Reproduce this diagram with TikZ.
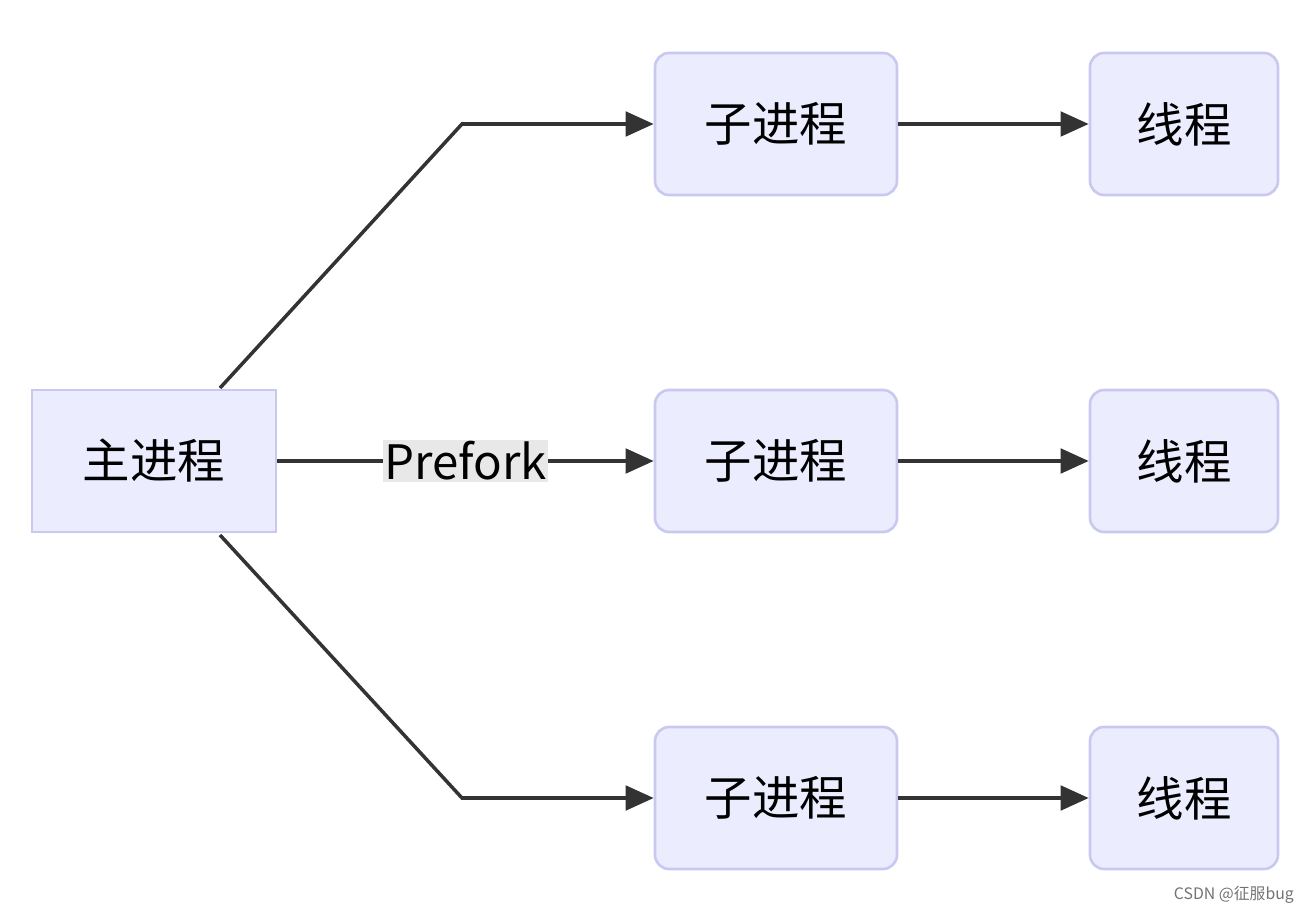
\documentclass[tikz,border=0pt]{standalone}
\usepackage{fontspec}
\setmainfont{Noto Sans CJK SC}
\usetikzlibrary{arrows.meta}
\definecolor{bfill}{HTML}{ECECFF}
\definecolor{bdraw}{HTML}{C9C9F0}
\definecolor{ln}{HTML}{333333}
\begin{document}
\begin{tikzpicture}[x=0.02cm,y=-0.02cm,
  box/.style={draw=bdraw,line width=1.5pt,fill=bfill,inner sep=0pt,font=\fontsize{27}{30}\selectfont},
  arr/.style={draw=ln,line width=2pt,-{Triangle[length=16pt,width=14pt]}}]
\useasboundingbox (0,0) rectangle (1313,912);
\node[box,minimum width=244*0.02cm,minimum height=142*0.02cm] (m) at (154,461) {主进程};
\foreach \i/\y in {1/124,2/461,3/798}{
  \node[box,rounded corners=8pt,minimum width=242*0.02cm,minimum height=142*0.02cm] (c\i) at (776,\y) {子进程};
  \node[box,rounded corners=8pt,minimum width=188*0.02cm,minimum height=142*0.02cm] (t\i) at (1184,\y) {线程};
  \draw[arr] (c\i) -- (t\i);
}
\coordinate (a1) at (220,388);
\coordinate (b1) at (462,124);
\coordinate (a3) at (220,535);
\coordinate (b3) at (462,798);
\draw[arr] (a1) -- (b1) -- (c1);
\draw[arr] (a3) -- (b3) -- (c3);
\draw[arr] (m) -- node[fill=black!9,inner sep=1pt,font=\fontsize{27}{30}\selectfont]{Prefork} (c2);
\node[text=black!55,font=\fontsize{9}{10}\selectfont,anchor=east] (w) at (1300,895) {CSDN @征服bug};
\end{tikzpicture}
\end{document}
